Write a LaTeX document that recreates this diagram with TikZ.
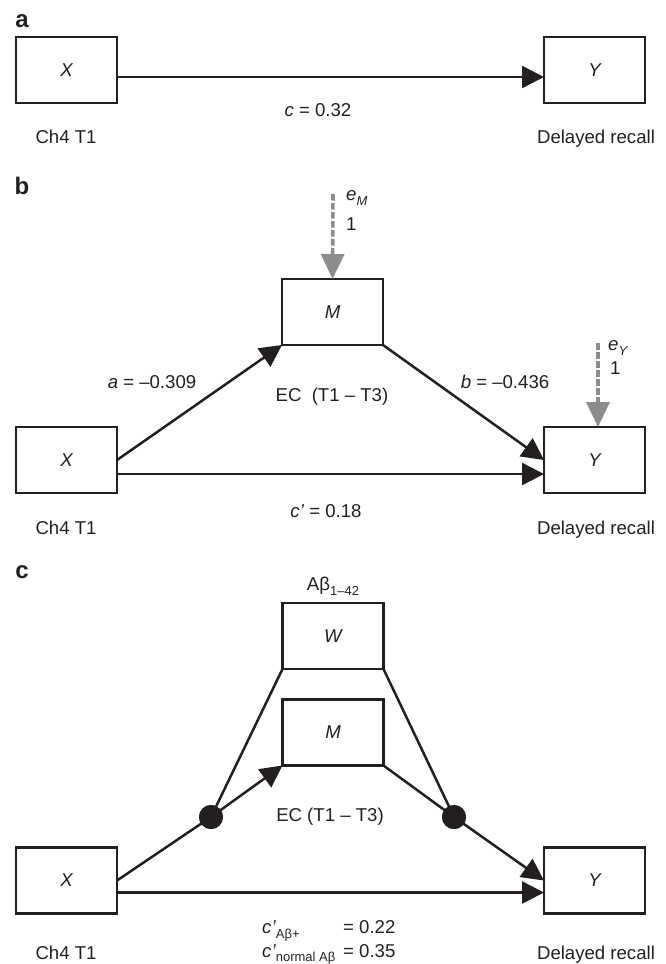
\documentclass[tikz,border=0pt]{standalone}
\usepackage{fontspec}
\setmainfont{Liberation Sans}
\usetikzlibrary{arrows.meta}
\definecolor{ink}{HTML}{231F20}
\definecolor{errgray}{HTML}{8C8C8C}
\newcommand{\lowsub}[2][0.28em]{\raisebox{-#1}{\fontsize{13}{13}\selectfont #2}}
\begin{document}
\begin{tikzpicture}[x=1pt,y=-1pt,
  box/.style={draw=ink, line width=2.6pt, minimum width=101pt, minimum height=66pt, inner sep=0pt, outer sep=0pt, font=\fontsize{18.6}{22}\selectfont\itshape, text=ink},
  lab/.style={inner sep=0pt, anchor=base, font=\fontsize{18.6}{22}\selectfont, text=ink},
  labw/.style={lab, anchor=base west},
  panel/.style={inner sep=0pt, anchor=base, font=\fontsize{24}{24}\selectfont\bfseries, text=ink},
  arr/.style={draw=ink, line width=2.5pt, -{Triangle[length=22pt,width=22pt]}},
  ln/.style={draw=ink, line width=2.5pt},
  errarr/.style={draw=errgray, line width=3.6pt, dash pattern=on 6.5pt off 2.5pt, -{Triangle[length=25pt,width=23pt]}},
  dot/.style={circle, fill=ink, minimum size=24pt, inner sep=0pt}]
\useasboundingbox (0,0) rectangle (665,964);

% ---------- panel a ----------
\node[panel] (pa) at (22,27) {a};
\node[box] (aX) at (66.5,70) {X};
\node[box] (aY) at (594.5,70) {Y};
\draw[arr] ([yshift=-7pt]aX.east) -- ([yshift=-7pt]aY.west);
\node[lab] (ac) at (318,116.5) {\textit{c} = 0.32};
\node[lab] (aXl) at (66,143) {Ch4 T1};
\node[lab] (aYl) at (596,143) {Delayed recall};

% ---------- panel b ----------
\node[panel] (pb) at (22,194) {b};
\node[box] (bM) at (332.5,312) {M};
\node[box] (bX) at (66.5,460) {X};
\node[box] (bY) at (594.5,460) {Y};
\coordinate (eMtop) at (333,194);
\coordinate (eYtop) at (598,343);
\draw[errarr] (eMtop) -- (bM.north);
\draw[errarr] (eYtop) -- (eYtop |- bY.north);
\node[labw] (eM) at (346,200) {\textit{e}\lowsub{\textit{M}}};
\node[labw] (eM1) at (346,230) {1};
\node[labw] (eY) at (608,350) {\textit{e}\lowsub{\textit{Y}}};
\node[labw] (eY1) at (610,374) {1};
\draw[arr] (bX.east) -- (bM.south west);
\draw[arr] (bM.south east) -- (bY.west);
\draw[arr] ([yshift=-14pt]bX.east) -- ([yshift=-14pt]bY.west);
\node[lab] (ba) at (152,388.5) {\textit{a} = –0.309};
\node[lab] (bec) at (332,401) {EC\hspace{0.55em}(T1 – T3)};
\node[lab] (bb) at (505,388.5) {\textit{b} = –0.436};
\node[lab] (bc) at (326,517) {\textit{c’} = 0.18};
\node[lab] (bXl) at (66,534) {Ch4 T1};
\node[lab] (bYl) at (596,534) {Delayed recall};

% ---------- panel c ----------
\node[panel] (pc) at (22,578) {c};
\node[lab] (cab) at (333,590) {Aβ\lowsub{1–42}};
\node[box] (cW) at (333,636) {W};
\node[box] (cM) at (333,732.5) {M};
\node[box] (cX) at (66.5,880.5) {X};
\node[box] (cY) at (594.5,880.5) {Y};
\node[dot] (dl) at (211,817) {};
\node[dot] (dr) at (454,817) {};
\draw[ln] (cX.east) -- (dl.center);
\draw[arr] (dl.center) -- (cM.south west);
\draw[ln] (cW.south west) -- (dl.center);
\draw[ln] (cW.south east) -- (dr.center);
\draw[ln] (cM.south east) -- (dr.center);
\draw[arr] (dr.center) -- (cY.west);
\draw[arr] ([yshift=-12pt]cX.east) -- ([yshift=-12pt]cY.west);
\node[dot] at (dl) {};
\node[dot] at (dr) {};
\node[lab] (cec) at (330,821) {EC (T1 – T3)};
\node[labw] (cc1) at (262,933) {\textit{c’}\lowsub{Aβ+}};
\node[labw] (cv1) at (343,933) {= 0.22};
\node[labw] (cc2) at (262,957) {\textit{c’}\lowsub[0.22em]{normal Aβ}};
\node[labw] (cv2) at (343,957) {= 0.35};
\node[lab] (cXl) at (66,959) {Ch4 T1};
\node[lab] (cYl) at (596,959) {Delayed recall};
\end{tikzpicture}
\end{document}
